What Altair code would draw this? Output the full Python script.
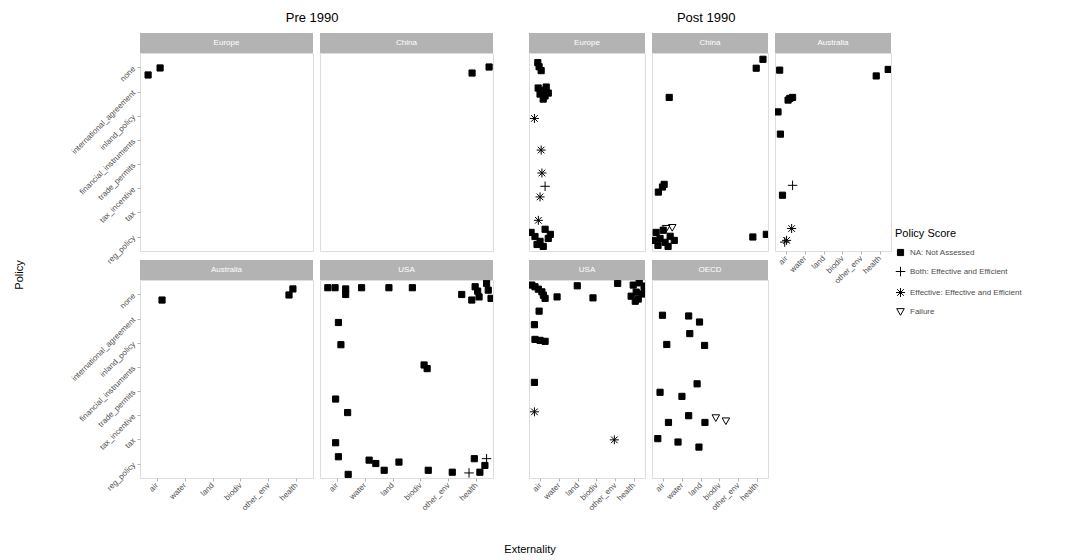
import altair as alt
import pandas as pd

# ---- categories -------------------------------------------------------
externalities = ["air", "water", "land", "biodiv", "other_env", "health"]
# bottom -> top
policies = ["reg_policy", "tax", "tax_incentive", "trade_permits",
            "financial_instruments", "inland_policy",
            "international_agreement", "none"]
score_codes = ["NA", "Both", "Eff", "Fail"]
score_labels = ["NA: Not Assessed", "Both: Effective and Efficient",
                "Effective: Effective and Efficient", "Failure"]

# ---- jittered points: (externality position, policy position, score) --
pre_europe = [(0.69, 7.69, "NA"), (1.12, 7.98, "NA")]
pre_china = [(5.85, 7.77, "NA"), (6.46, 8.02, "NA")]
pre_australia = [(1.19, 7.77, "NA"), (5.74, 7.98, "NA"), (5.88, 8.23, "NA")]
pre_usa = [(0.68, 8.28, "NA"), (0.94, 8.28, "NA"), (1.32, 8.23, "NA"), (1.32, 8.00, "NA"),
           (1.89, 8.28, "NA"), (2.87, 8.28, "NA"), (3.71, 8.28, "NA"), (5.48, 8.00, "NA"),
           (5.84, 7.77, "NA"), (5.96, 8.32, "NA"), (6.05, 8.14, "NA"), (6.10, 7.90, "NA"),
           (6.37, 8.46, "NA"), (6.43, 8.18, "NA"), (6.53, 7.84, "NA"), (1.06, 6.84, "NA"),
           (1.15, 5.92, "NA"), (4.13, 5.08, "NA"), (4.24, 4.93, "NA"), (0.96, 3.67, "NA"),
           (1.39, 3.11, "NA"), (0.96, 1.86, "NA"), (1.06, 1.28, "NA"), (2.16, 1.14, "NA"),
           (2.40, 1.00, "NA"), (2.70, 0.72, "NA"), (3.23, 1.06, "NA"), (1.41, 0.55, "NA"),
           (4.28, 0.72, "NA"), (5.14, 0.64, "NA"), (5.93, 1.20, "NA"), (6.31, 0.92, "NA"),
           (6.13, 0.64, "NA"), (6.37, 1.20, "Both"), (5.74, 0.61, "Both")]
post_europe = [(0.87, 8.20, "NA"), (0.94, 8.03, "NA"), (1.05, 7.87, "NA"), (0.89, 7.15, "NA"),
               (1.10, 7.06, "NA"), (1.32, 7.19, "NA"), (0.99, 6.90, "NA"), (1.26, 6.82, "NA"),
               (1.16, 6.69, "NA"), (1.43, 6.94, "NA"), (0.69, 5.89, "Eff"), (1.05, 4.58, "Eff"),
               (1.09, 3.63, "Eff"), (1.26, 3.08, "Both"), (0.99, 2.64, "Eff"), (0.90, 1.67, "Eff"),
               (0.51, 1.17, "NA"), (0.72, 1.00, "NA"), (0.99, 0.80, "NA"), (1.26, 1.30, "NA"),
               (1.43, 0.92, "NA"), (1.16, 0.59, "NA"), (0.83, 0.67, "NA"), (1.54, 1.09, "NA")]
post_china = [(6.33, 8.34, "NA"), (5.97, 7.97, "NA"), (1.32, 6.76, "NA"), (0.96, 3.05, "NA"),
              (0.74, 2.84, "NA"), (1.05, 3.16, "NA"), (0.62, 1.17, "NA"), (0.83, 0.92, "NA"),
              (1.10, 0.76, "NA"), (1.37, 1.01, "NA"), (0.72, 0.63, "NA"), (1.00, 1.26, "NA"),
              (1.26, 0.59, "NA"), (1.59, 0.84, "NA"), (0.56, 0.84, "NA"), (1.16, 1.34, "Fail"),
              (1.48, 1.38, "Fail"), (5.79, 0.98, "NA"), (6.51, 1.09, "NA")]
post_australia = [(0.65, 7.89, "NA"), (6.45, 7.92, "NA"), (5.81, 7.65, "NA"), (1.10, 6.65, "NA"),
                  (1.34, 6.76, "NA"), (1.19, 6.72, "NA"), (0.56, 6.16, "NA"), (0.69, 5.24, "NA"),
                  (1.34, 3.12, "Both"), (0.80, 2.71, "NA"), (1.29, 1.33, "Eff"), (1.02, 0.84, "Eff"),
                  (0.92, 0.77, "Both")]
post_usa = [(0.55, 8.39, "NA"), (0.72, 8.32, "NA"), (0.90, 8.22, "NA"), (1.09, 8.11, "NA"),
            (1.17, 7.97, "NA"), (1.26, 7.84, "NA"), (1.90, 7.90, "NA"), (2.98, 8.36, "NA"),
            (3.82, 7.86, "NA"), (5.14, 8.46, "NA"), (5.97, 8.39, "NA"), (6.29, 8.48, "NA"),
            (6.56, 8.35, "NA"), (6.13, 8.10, "NA"), (6.45, 8.02, "NA"), (5.86, 7.93, "NA"),
            (6.24, 7.81, "NA"), (6.56, 8.18, "NA"), (6.08, 7.72, "NA"), (0.94, 7.31, "NA"),
            (0.69, 6.75, "NA"), (0.72, 6.14, "NA"), (0.99, 6.10, "NA"), (1.26, 6.06, "NA"),
            (0.69, 4.36, "NA"), (0.69, 3.14, "Eff"), (4.96, 1.98, "Eff")]
post_oecd = [(0.96, 7.14, "NA"), (2.36, 7.11, "NA"), (2.94, 6.86, "NA"), (2.42, 6.38, "NA"),
             (1.19, 5.93, "NA"), (3.21, 5.89, "NA"), (2.81, 4.30, "NA"), (0.83, 3.95, "NA"),
             (2.00, 3.78, "NA"), (2.36, 2.98, "NA"), (1.28, 2.70, "NA"), (3.23, 2.70, "NA"),
             (3.81, 2.90, "Fail"), (4.35, 2.77, "Fail"), (0.71, 2.03, "NA"), (1.79, 1.89, "NA"),
             (2.91, 1.68, "NA")]

# ---- styling ----------------------------------------------------------
FONT = "Liberation Sans"
STRIP = "#b3b3b3"
TXT = "#4d4d4d"
PRE_W, POST_W, H, STRIP_H = 173, 116, 198, 20

shape_paths = ["M-0.65,-0.65L0.65,-0.65L0.65,0.65L-0.65,0.65Z",
               "M-1,0L1,0M0,-1L0,1",
               "M-0.95,0L0.95,0M0,-0.95L0,0.95M-0.7,-0.7L0.7,0.7M-0.7,0.7L0.7,-0.7",
               "M-0.8,-0.6L0.8,-0.6L0,0.8Z"]
fill_colors = ["black", "transparent", "transparent", "transparent"]
code_to_label = dict(zip(score_codes, score_labels))


def label_expr(names):
    arr = ",".join("'" + n + "'" for n in [""] + names)
    return "[" + arr + "][datum.value]"


def make_legend():
    return alt.Legend(title="Policy Score", orient="none", legendX=755, legendY=175,
                      titleFontSize=11, titleFontWeight="normal", titleColor="black",
                      labelFontSize=8, labelColor=TXT, symbolSize=90, symbolStrokeWidth=1,
                      rowPadding=6, titlePadding=8)


def panel(name, pts, w, show_x, show_y, extras=()):
    df = pd.DataFrame(pts, columns=["ext", "pol", "code"])
    df["score"] = df["code"].map(code_to_label)
    if show_x:
        xa = alt.Axis(values=list(range(1, 7)), labelExpr=label_expr(externalities),
                      labelAngle=315, labelAlign="right", labelBaseline="middle",
                      labelFontSize=8, labelColor=TXT, labelFont=FONT, labelPadding=3,
                      labelOverlap=False, labelFlush=False, tickColor=STRIP, tickSize=3,
                      domain=False, grid=False, title="")
    else:
        xa = None
    if show_y:
        ya = alt.Axis(values=list(range(1, 9)), labelExpr=label_expr(policies),
                      labelAngle=315, labelAlign="right", labelBaseline="middle",
                      labelFontSize=8, labelColor=TXT, labelFont=FONT, labelPadding=3,
                      labelOverlap=False, labelFlush=False, tickColor=STRIP, tickSize=3,
                      domain=False, grid=False, title="")
    else:
        ya = None
    pts_layer = alt.Chart(df).mark_point(size=90, strokeWidth=1, opacity=1, clip=True).encode(
        x=alt.X("ext:Q", scale=alt.Scale(domain=[0.4, 6.6], nice=False, zero=False), axis=xa),
        y=alt.Y("pol:Q", scale=alt.Scale(domain=[0.4, 8.6], nice=False, zero=False), axis=ya),
        shape=alt.Shape("score:N", scale=alt.Scale(domain=score_labels, range=shape_paths),
                        legend=make_legend()),
        fill=alt.Fill("score:N", scale=alt.Scale(domain=score_labels, range=fill_colors),
                      legend=make_legend()),
        stroke=alt.Stroke("score:N", scale=alt.Scale(domain=score_labels,
                                                     range=["black"] * 4),
                          legend=make_legend()),
    )
    hdr = pd.DataFrame({"t": [name]})
    strip = alt.Chart(hdr).mark_rect(fill=STRIP).encode(
        x=alt.value(0), x2=alt.value(w), y=alt.value(-STRIP_H), y2=alt.value(0))
    strip_txt = alt.Chart(hdr).mark_text(color="white", fontSize=8, font=FONT).encode(
        x=alt.value(w / 2), y=alt.value(-STRIP_H / 2), text="t:N")
    layers = [strip, strip_txt, pts_layer] + list(extras)
    return alt.layer(*layers).properties(width=w, height=H)


policy_title = alt.Chart(pd.DataFrame({"t": ["Policy"]})).mark_text(
    angle=270, fontSize=11, font=FONT, color="black").encode(
    x=alt.value(-120), y=alt.value(-5), text="t:N")
ext_title = alt.Chart(pd.DataFrame({"t": ["Externality"]})).mark_text(
    fontSize=11, font=FONT, color="black").encode(
    x=alt.value(1), y=alt.value(H + 72), text="t:N")

p_eu = panel("Europe", pre_europe, PRE_W, False, True)
p_cn = panel("China", pre_china, PRE_W, False, False)
p_au = panel("Australia", pre_australia, PRE_W, True, True, [policy_title])
p_us = panel("USA", pre_usa, PRE_W, True, False)

q_eu = panel("Europe", post_europe, POST_W, False, False)
q_cn = panel("China", post_china, POST_W, False, False)
q_au = panel("Australia", post_australia, POST_W, True, False)
q_us = panel("USA", post_usa, POST_W, True, False, [ext_title])
q_oe = panel("OECD", post_oecd, POST_W, True, False)

ROW_GAP = 9 + STRIP_H
pre = alt.hconcat(
    alt.vconcat(p_eu, p_au, spacing=ROW_GAP, bounds="flush"),
    alt.vconcat(p_cn, p_us, spacing=ROW_GAP, bounds="flush"),
    spacing=5,
    title=alt.Title("Pre 1990", anchor="end", dx=-155, fontSize=13, fontWeight="normal",
                    font=FONT, offset=8),
)
post = alt.hconcat(
    alt.vconcat(q_eu, q_us, spacing=ROW_GAP, bounds="flush"),
    alt.vconcat(q_cn, q_oe, spacing=ROW_GAP, bounds="flush"),
    q_au,
    spacing=5,
    title=alt.Title("Post 1990", anchor="end", dx=-156, fontSize=13, fontWeight="normal",
                    font=FONT, offset=8),
)

chart = alt.hconcat(pre, post, spacing=9).configure_view(
    stroke=STRIP, strokeWidth=1
).configure(font=FONT).properties(padding={"top": 3, "left": 5, "right": 5, "bottom": 5})

chart.save("out.html", embed_options={"renderer": "svg", "actions": False})
